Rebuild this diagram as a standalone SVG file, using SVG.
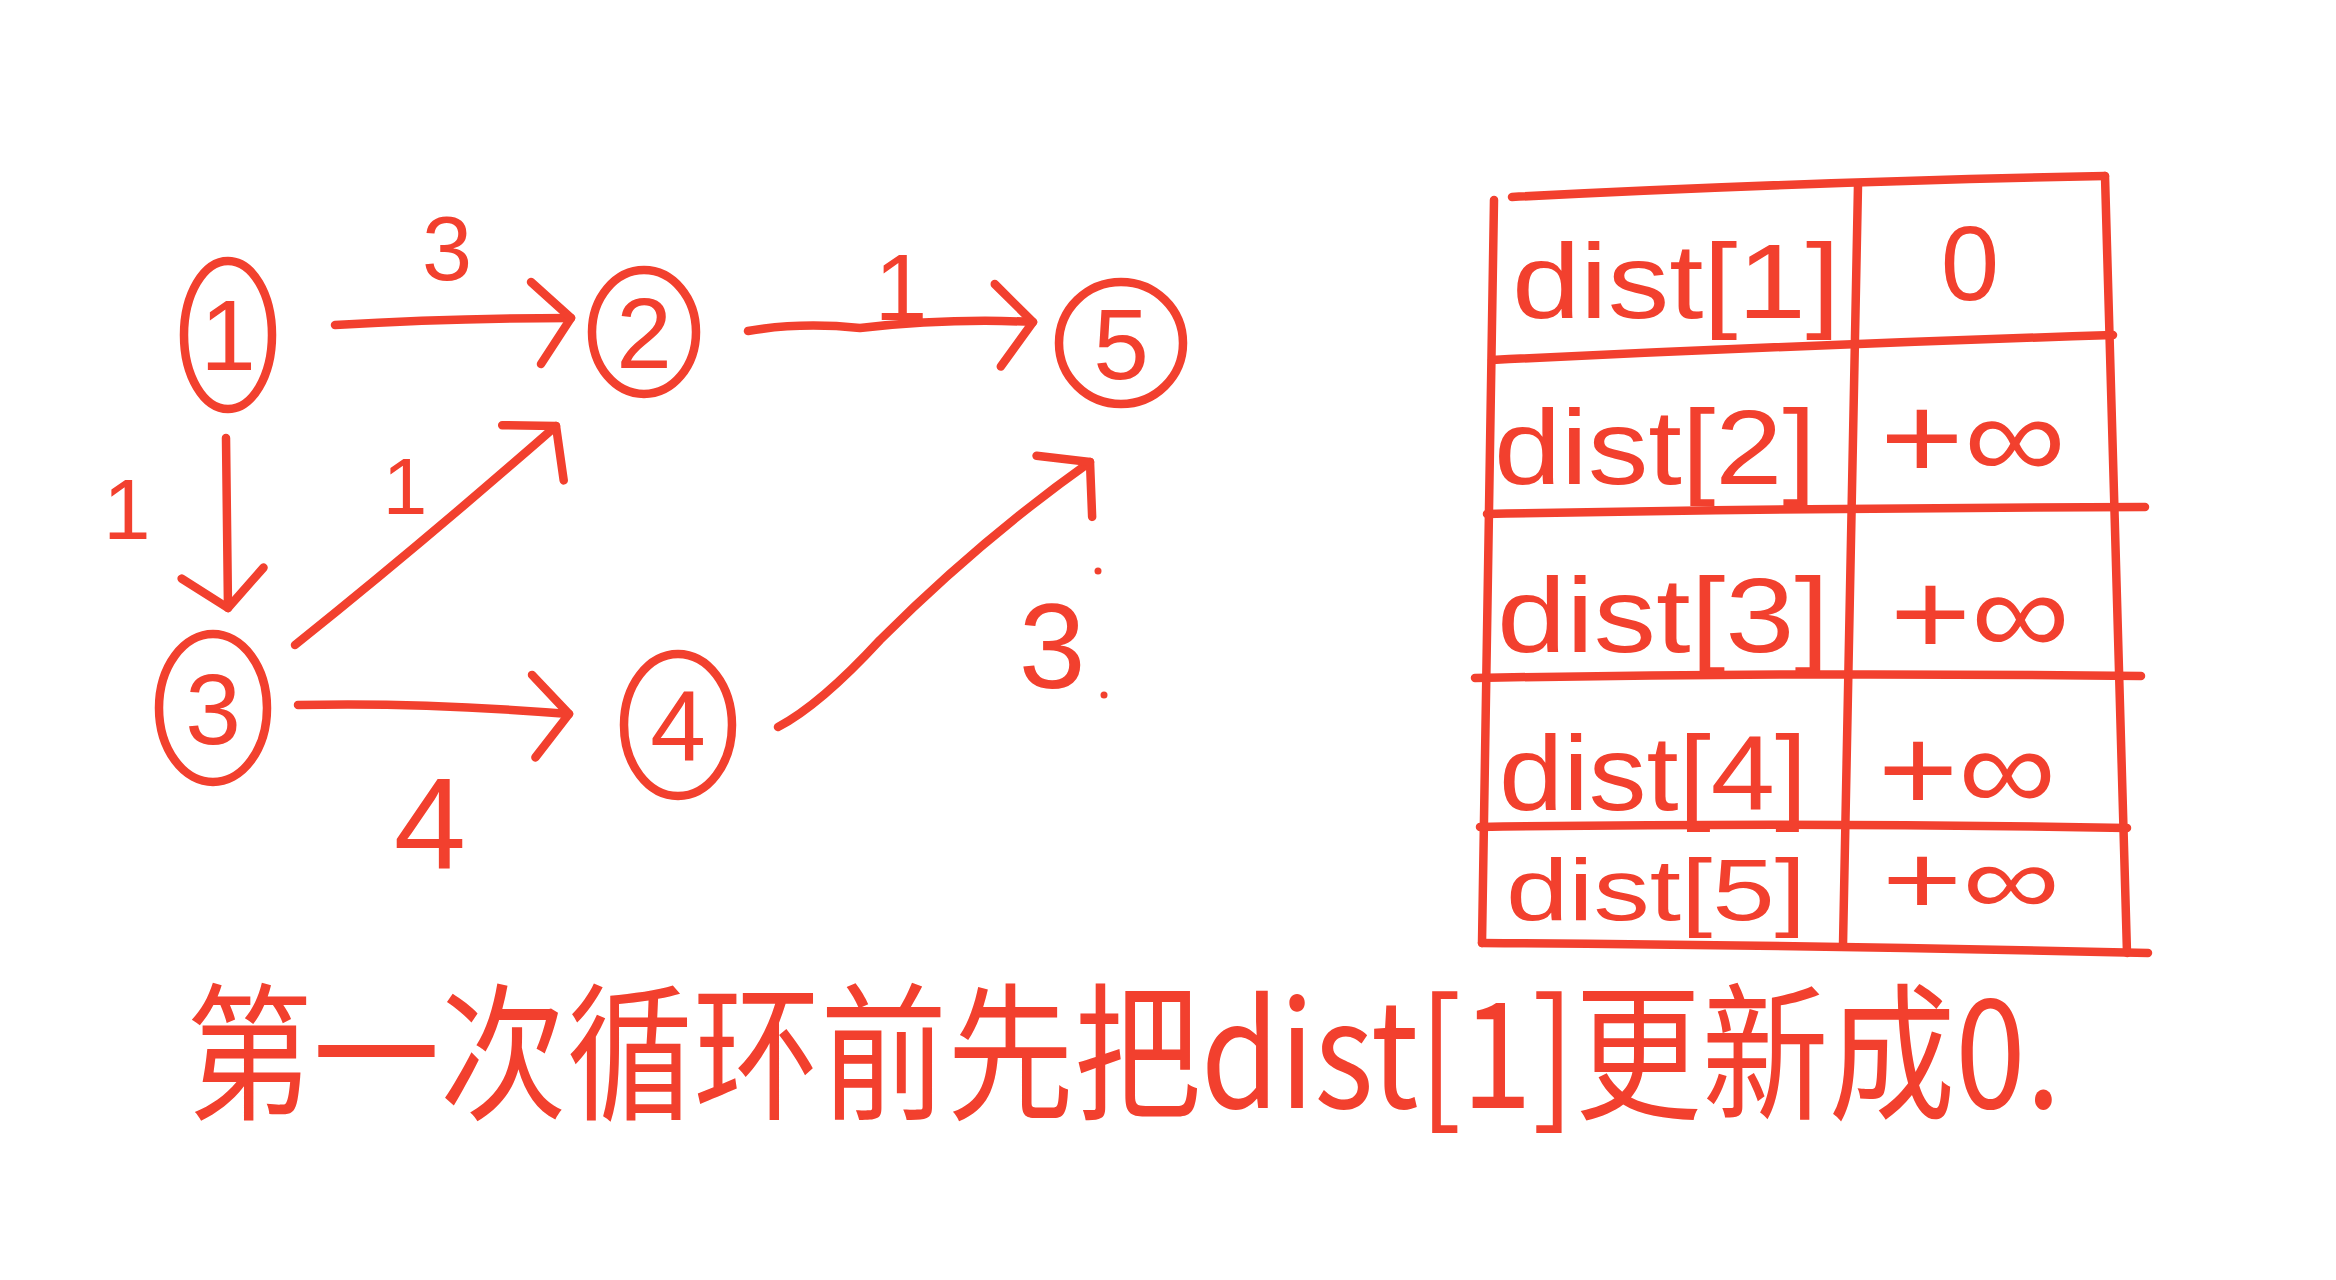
<svg xmlns="http://www.w3.org/2000/svg" width="2336" height="1280" viewBox="0 0 2336 1280">
<style>
.ink{fill:none;stroke:#f2402e;stroke-width:8.5;stroke-linecap:round;stroke-linejoin:round}
.t{fill:#f2402e;font-family:"Liberation Sans","DejaVu Sans",sans-serif}
.cjk{fill:#f2402e;font-family:"Noto Sans CJK SC","Liberation Sans",sans-serif}
</style>
<defs>
<marker id="arr" markerUnits="userSpaceOnUse" viewBox="-60 -70 80 140" markerWidth="80" markerHeight="140" refX="0" refY="0" orient="auto">
<path d="M-40,-36 L0,0 L-30,46" fill="none" stroke="#f2402e" stroke-width="8.5" stroke-linecap="round" stroke-linejoin="round"/>
</marker>
</defs>
<rect width="2336" height="1280" fill="#ffffff"/>

<g id="node1">
<ellipse class="ink" cx="228" cy="335" rx="44" ry="74"/>
<text class="t" x="228" y="370" font-size="100" text-anchor="middle">1</text>
</g>
<g id="node2">
<ellipse class="ink" cx="644" cy="332" rx="52" ry="62"/>
<text class="t" x="644" y="368" font-size="100" text-anchor="middle">2</text>
</g>
<g id="node5">
<ellipse class="ink" cx="1121" cy="343" rx="62" ry="61"/>
<text class="t" x="1121" y="379" font-size="100" text-anchor="middle">5</text>
</g>
<g id="node3">
<ellipse class="ink" cx="213" cy="708" rx="54" ry="74"/>
<text class="t" x="213" y="744" font-size="100" text-anchor="middle">3</text>
</g>
<g id="node4">
<ellipse class="ink" cx="678" cy="725" rx="54" ry="71"/>
<text class="t" x="678" y="761" font-size="100" text-anchor="middle">4</text>
</g>

<g id="connectors">
<g id="e12">
<path class="ink" d="M335,325 Q450,318 571,318" marker-end="url(#arr)"/>
<text class="t" x="447" y="280" font-size="90" text-anchor="middle">3</text>
</g>
<g id="e25">
<path class="ink" d="M748,331 Q800,322 860,328 Q950,318 1033,322" marker-end="url(#arr)"/>
<text class="t" x="901" y="320" font-size="95" text-anchor="middle">1</text>
</g>
<g id="e13">
<path class="ink" d="M226,438 L228,608" marker-end="url(#arr)"/>
<text class="t" x="127" y="539" font-size="85" text-anchor="middle">1</text>
</g>
<g id="e32">
<path class="ink" d="M295,645 Q420,545 556,426" marker-end="url(#arr)"/>
<text class="t" x="405" y="514" font-size="80" text-anchor="middle">1</text>
</g>
<g id="e34">
<path class="ink" d="M298,705 Q420,702 569,714" marker-end="url(#arr)"/>
<text class="t" x="430" y="868" font-size="130" text-anchor="middle">4</text>
</g>
<g id="e45">
<path class="ink" d="M778,727 Q820,705 880,640 Q980,540 1090,462" marker-end="url(#arr)"/>
<text class="t" x="1052" y="688" font-size="120" text-anchor="middle">3</text>
<circle cx="1098" cy="571" r="3.5" fill="#f2402e"/>
<circle cx="1104" cy="695" r="3.5" fill="#f2402e"/>
</g>
</g>

<g id="table">
<path class="ink" d="M1512,197 Q1800,182 2105,176"/>
<path class="ink" d="M1494,200 L1482,943"/>
<path class="ink" d="M2105,176 L2127,953"/>
<path class="ink" d="M1858,185 L1843,945"/>
<path class="ink" d="M1492,360 Q1800,345 2113,335"/>
<path class="ink" d="M1487,514 Q1800,508 2145,507"/>
<path class="ink" d="M1475,678 Q1800,672 2141,676"/>
<path class="ink" d="M1480,827 Q1800,822 2127,828"/>
<path class="ink" d="M1482,943 Q1800,945 2148,953"/>
<text class="t" x="1512" y="318" font-size="106" textLength="328" lengthAdjust="spacingAndGlyphs">dist[1]</text>
<text class="t" x="1494" y="484" font-size="106" textLength="322" lengthAdjust="spacingAndGlyphs">dist[2]</text>
<text class="t" x="1497" y="652" font-size="106" textLength="332" lengthAdjust="spacingAndGlyphs">dist[3]</text>
<text class="t" x="1499" y="810" font-size="106" textLength="308" lengthAdjust="spacingAndGlyphs">dist[4]</text>
<text class="t" x="1506" y="920" font-size="88" textLength="300" lengthAdjust="spacingAndGlyphs">dist[5]</text>
<text class="t" x="1970" y="300" font-size="105" text-anchor="middle">0</text>
<text class="t" x="1880" y="478" font-size="118" textLength="186" lengthAdjust="spacingAndGlyphs">+∞</text>
<text class="t" x="1890" y="654" font-size="118" textLength="180" lengthAdjust="spacingAndGlyphs">+∞</text>
<text class="t" x="1878" y="810" font-size="118" textLength="178" lengthAdjust="spacingAndGlyphs">+∞</text>
<text class="t" x="1882" y="914" font-size="98" textLength="178" lengthAdjust="spacingAndGlyphs">+∞</text>
</g>

<g id="caption">
<text class="cjk" transform="translate(186,1108) scale(1,1.15)" x="0" y="0" font-size="128" textLength="1875" lengthAdjust="spacingAndGlyphs">第一次循环前先把dist[1]更新成0.</text>
</g>
</svg>
